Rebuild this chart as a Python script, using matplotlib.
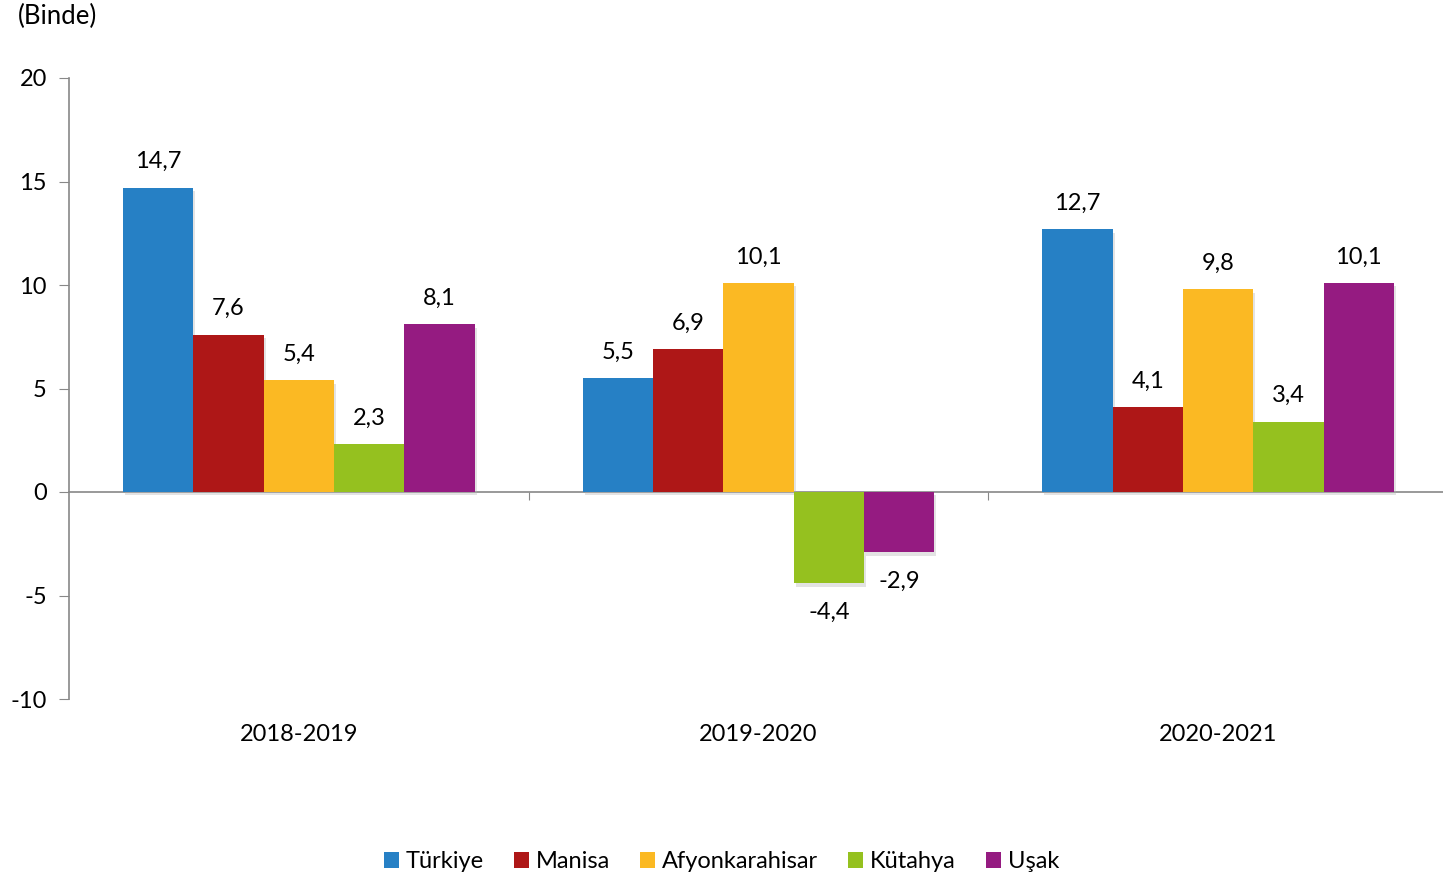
import matplotlib.pyplot as plt
import matplotlib.patheffects as pe
import numpy as np

plt.rcParams['font.family'] = ['Lato', 'DejaVu Sans']

periods = ["2018-2019", "2019-2020", "2020-2021"]
regions = ["Türkiye", "Manisa", "Afyonkarahisar", "Kütahya", "Uşak"]
turkiye = [14.7, 5.5, 12.7]
manisa = [7.6, 6.9, 4.1]
afyon = [5.4, 10.1, 9.8]
kutahya = [2.3, -4.4, 3.4]
usak = [8.1, -2.9, 10.1]
colors = ["#2680c5", "#ae1717", "#fbb923", "#95c11f", "#951b81"]

series = [turkiye, manisa, afyon, kutahya, usak]
FS = 17

fig = plt.figure(figsize=(14.43, 8.77), dpi=100)
ax = fig.add_axes([69 / 1443, 1 - 699 / 877, 1379 / 1443, (699 - 78) / 877])

x = np.arange(len(periods))
w = 0.153
shadow = [pe.SimplePatchShadow(offset=(1.5, -2.5), shadow_rgbFace="#b0b0b0", alpha=0.35), pe.Normal()]

for i, (name, vals) in enumerate(zip(regions, series)):
    pos = x + (i - 2) * w
    bars = ax.bar(pos, vals, w, color=colors[i], label=name, zorder=3)
    for b in bars:
        b.set_path_effects(shadow)
    for px, v in zip(pos, vals):
        lbl = f"{v:.1f}".replace(".", ",")
        if v >= 0:
            ax.text(px, v + 1.25, lbl, ha="center", va="center", fontsize=FS)
        else:
            ax.text(px, v - 1.4, lbl, ha="center", va="center", fontsize=FS)

ax.set_xlim(-0.5, 2.5)
ax.set_ylim(-10, 20)
ax.set_yticks([-10, -5, 0, 5, 10, 15, 20])
ax.set_yticklabels([str(t) for t in [-10, -5, 0, 5, 10, 15, 20]], fontsize=FS)

ax.spines["top"].set_visible(False)
ax.spines["right"].set_visible(False)
ax.spines["bottom"].set_position(("data", 0))
ax.spines["left"].set_color("#888888")
ax.spines["bottom"].set_color("#888888")
ax.spines["left"].set_linewidth(1.2)
ax.spines["bottom"].set_linewidth(1.2)
ax.set_xticks([0.5, 1.5])
ax.set_xticklabels([])
ax.tick_params(axis="x", direction="out", length=6, color="#888888")
ax.tick_params(axis="y", direction="out", length=7, color="#888888", pad=9)

for xi, p in zip(x, periods):
    ax.text(xi, -11.7, p, ha="center", va="center", fontsize=FS, clip_on=False)

fig.text(18 / 1443, 1 - 16 / 877, "(Binde)", ha="left", va="center", fontsize=18.5)

leg = fig.legend(loc="center", bbox_to_anchor=(0.5, 1 - 862 / 877), ncol=5, frameon=False,
                 fontsize=FS, handlelength=0.65, handleheight=0.65, handletextpad=0.3,
                 columnspacing=1.25)
for h in leg.legend_handles:
    h.set_path_effects([])

fig.savefig("out.png", dpi=100)
